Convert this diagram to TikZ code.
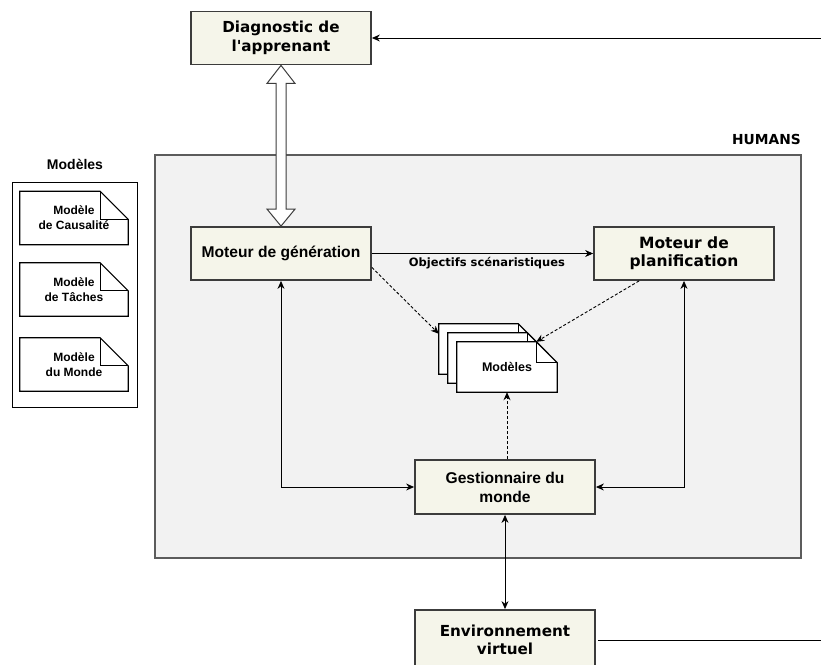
\documentclass[tikz,border=0pt]{standalone}
\usepackage{fontspec}
\setmainfont{DejaVu Sans}[Ligatures=TeXOff]
\newfontfamily\arialf{Liberation Sans}
\usetikzlibrary{calc,arrows.meta}
\pgfdeclarelayer{bg}
\pgfdeclarelayer{mid}
\pgfsetlayers{bg,mid,main}
\definecolor{boxfill}{HTML}{F5F5EA}
\definecolor{boxline}{HTML}{3C3C3C}
\definecolor{zonefill}{HTML}{F2F2F2}
\definecolor{zoneline}{HTML}{5C5C5C}
\tikzset{
  box/.style={draw=boxline, fill=boxfill, line width=1.8pt, minimum width=180pt, minimum height=53pt, align=center, inner sep=0pt},
  djv/.style={font=\fontsize{15.2}{18.5}\selectfont\bfseries},
  arl/.style={font=\arialf\fontsize{15.6}{19}\selectfont\bfseries},
  doc/.style={minimum width=108pt, minimum height=53pt, align=center, inner sep=0pt, font=\arialf\fontsize{12}{15}\selectfont\bfseries},
  stackdoc/.style={minimum width=100pt, minimum height=50pt, align=center, inner sep=0pt, font=\arialf\fontsize{12.5}{15}\selectfont\bfseries},
  conn/.style={line width=0.9pt, -{Stealth[length=8pt,width=7pt]}},
  both/.style={line width=0.9pt, {Stealth[length=8pt,width=7pt]}-{Stealth[length=8pt,width=7pt]}},
  dep/.style={conn, dash pattern=on 3pt off 2pt},
}
% outline of a document with folded corner: node name, fold size
\newcommand\docoutline[2]{%
  \begin{pgfonlayer}{mid}
  \draw[line width=1.2pt, fill=white] (#1.south west) -- (#1.north west) -- ([xshift=-#2]#1.north east) -- ([yshift=-#2]#1.north east) -- (#1.south east) -- cycle;
  \draw[line width=1.2pt] ([xshift=-#2]#1.north east) |- ([yshift=-#2]#1.north east);
  \end{pgfonlayer}}
\begin{document}
\begin{tikzpicture}[x=1pt,y=-1pt]
\useasboundingbox (0,0) rectangle (821,664);
\coordinate (rim) at (821,0);
% zones
\begin{pgfonlayer}{bg}
\node[draw=zoneline, fill=zonefill, line width=1.2pt, minimum width=646pt, minimum height=403pt, inner sep=0pt] (humans) at (478,356.5) {};
\node[draw=black, fill=white, line width=0.8pt, minimum width=125pt, minimum height=225pt, inner sep=0pt] (panel) at (74.5,294.5) {};
\end{pgfonlayer}
\node[font=\fontsize{13.8}{15}\selectfont\bfseries, anchor=east, inner sep=0pt] (humanslbl) at (801,139) {HUMANS};
\node[font=\arialf\fontsize{14}{16}\selectfont\bfseries] (modlbl) at (75,164) {Modèles};

% models panel
\node[doc] (caus) at (74,218) {Modèle\\de Causalité};
\node[doc] (taches) at (74,289.5) {Modèle\\de Tâches};
\node[doc] (monde) at (74,364.5) {Modèle\\du Monde};
\docoutline{caus}{28pt}
\docoutline{taches}{28pt}
\docoutline{monde}{28pt}

% boxes
\node[box, djv] (diag) at (281,38) {Diagnostic de\\l'apprenant};
\node[box, arl] (gen) at (281,253.5) {Moteur de génération};
\node[box, djv, font=\fontsize{15.5}{18}\selectfont\bfseries] (plan) at (684,253.5) {Moteur de\\planification};
\node[box, arl, minimum height=54pt] (gest) at (505,487) {Gestionnaire du\\monde};
\node[box, djv, minimum height=60pt] (env) at (505,640) {Environnement\\virtuel};

% stack of models
\node[stackdoc] (bk) at (489,349) {};
\node[stackdoc] (md) at (498,358) {};
\node[stackdoc] (fr) at (507,367) {Modèles};
\docoutline{bk}{21pt}
\docoutline{md}{21pt}
\docoutline{fr}{21pt}

% connectors
\draw[line width=1pt, draw=boxline, fill=white] (diag.south) -- ++(14,18) -- ++(-9,0) -- ($(gen.north)+(5,-17)$) -- ++(9,0) -- (gen.north) -- ++(-14,-17) -- ++(9,0) -- ($(diag.south)+(-5,18)$) -- ++(-9,0) -- cycle;
\draw[conn] (diag.east -| rim) -- (diag.east);
\draw[conn] (gen.east) -- node[pos=0.52, below, inner sep=3pt, font=\fontsize{11.5}{13}\selectfont\bfseries] (objlbl) {Objectifs scénaristiques} (plan.west);
\draw[both] (gen.south) |- (gest.west);
\draw[both] (plan.south) |- (gest.east);
\draw[both] (gest.south) -- (env.north);
\draw[line width=0.9pt] ([xshift=2pt]env.east) -- (env.east -| rim);
\draw[dep] ([yshift=-14pt]gen.east) -- ([yshift=-10pt]bk.north west);
\draw[dep] ([xshift=46pt]plan.south west) -- ([xshift=-21pt]fr.north east);
\draw[dep] (fr.south |- gest.north) -- (fr.south);
\end{tikzpicture}
\end{document}
